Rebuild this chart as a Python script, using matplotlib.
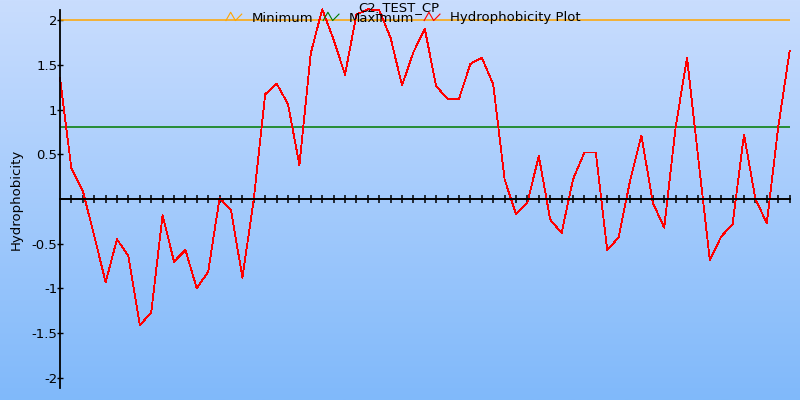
import numpy as np
import matplotlib
matplotlib.use("Agg")
import matplotlib.pyplot as plt
from matplotlib.lines import Line2D
from matplotlib.legend_handler import HandlerBase

# valores (um ponto por resíduo)
hydro = [1.35, 0.34, 0.09, -0.41, -0.93, -0.45, -0.64, -1.41, -1.27, -0.18,
         -0.70, -0.57, -1.00, -0.81, 0.01, -0.12, -0.88, 0.00, 1.17, 1.29,
         1.06, 0.38, 1.63, 2.12, 1.78, 1.39, 2.06, 2.12, 2.11, 1.80,
         1.27, 1.64, 1.90, 1.26, 1.12, 1.12, 1.51, 1.58, 1.28, 0.22,
         -0.17, -0.04, 0.48, -0.23, -0.38, 0.22, 0.52, 0.52, -0.57, -0.43,
         0.20, 0.71, -0.04, -0.32, 0.80, 1.58, 0.44, -0.68, -0.42, -0.28,
         0.72, 0.00, -0.27, 0.80, 1.65]
minimum = 2.0
maximum = 0.8
yticks = [-2, -1.5, -1, -0.5, 0.5, 1, 1.5, 2]
ytick_labels = ["-2", "-1.5", "-1", "-0.5", "0.5", "1", "1.5", "2"]

x = np.arange(len(hydro))


class ZigZag(HandlerBase):
    def create_artists(self, legend, orig_handle, xdescent, ydescent,
                       width, height, fontsize, trans):
        xs = np.array([0.0, 0.3, 0.6, 1.0]) * width - xdescent
        ys = np.array([0.1, 1.0, 0.1, 0.8]) * height - ydescent
        ln = Line2D(xs, ys, color=orig_handle.get_color(), lw=0.8)
        ln.set_transform(trans)
        return [ln]


fig = plt.figure(figsize=(8, 4), dpi=100)

# fundo em degradê
bg = fig.add_axes([0, 0, 1, 1], zorder=-1)
top = np.array([201, 221, 254]) / 255
bot = np.array([128, 185, 250]) / 255
t = np.linspace(0, 1, 256)[:, None]
grad = top * (1 - t) + bot * t
bg.imshow(grad[:, None, :], aspect="auto", extent=[0, 1, 0, 1])
bg.axis("off")

ax = fig.add_axes([0.075, 0.03, 0.912, 0.945])
ax.set_facecolor("none")

l_min = ax.axhline(minimum, color="#ffa500", lw=1.1)
l_max = ax.axhline(maximum, color="#007a00", lw=1.1)
l_hyd, = ax.plot(x, hydro, color="red", lw=0.6, clip_on=False,
                 antialiased=False)

ax.set_xlim(0, len(hydro) - 1)
ax.set_ylim(-2.112, 2.112)

for s in ["top", "right"]:
    ax.spines[s].set_visible(False)
ax.spines["bottom"].set_position(("data", 0))
ax.spines["bottom"].set_linewidth(1.4)
ax.spines["left"].set_linewidth(1.3)

ax.set_xticks(x[1:])
ax.tick_params(axis="x", direction="inout", length=5.5, width=1.1,
               labelbottom=False)
ax.set_yticks(yticks)
ax.set_yticklabels(ytick_labels)
ax.tick_params(axis="y", direction="inout", length=4, width=1.0,
               labelsize=9.5, pad=0)
ax.set_ylabel("Hydrophobicity", fontsize=9.5, labelpad=6)

fig.text(0.4985, 0.998, "C2_TEST_CP", ha="center", va="top", fontsize=9.5)
fig.legend([l_min, l_max, l_hyd],
           ["Minimum", "Maximum", "Hydrophobicity Plot"],
           handler_map={Line2D: ZigZag()},
           loc="center", bbox_to_anchor=(0.504, 0.955), ncol=3,
           frameon=False, fontsize=9.5, handlelength=1.2,
           handletextpad=0.75, columnspacing=0.75, borderpad=0)

fig.savefig("out.png", dpi=100)
